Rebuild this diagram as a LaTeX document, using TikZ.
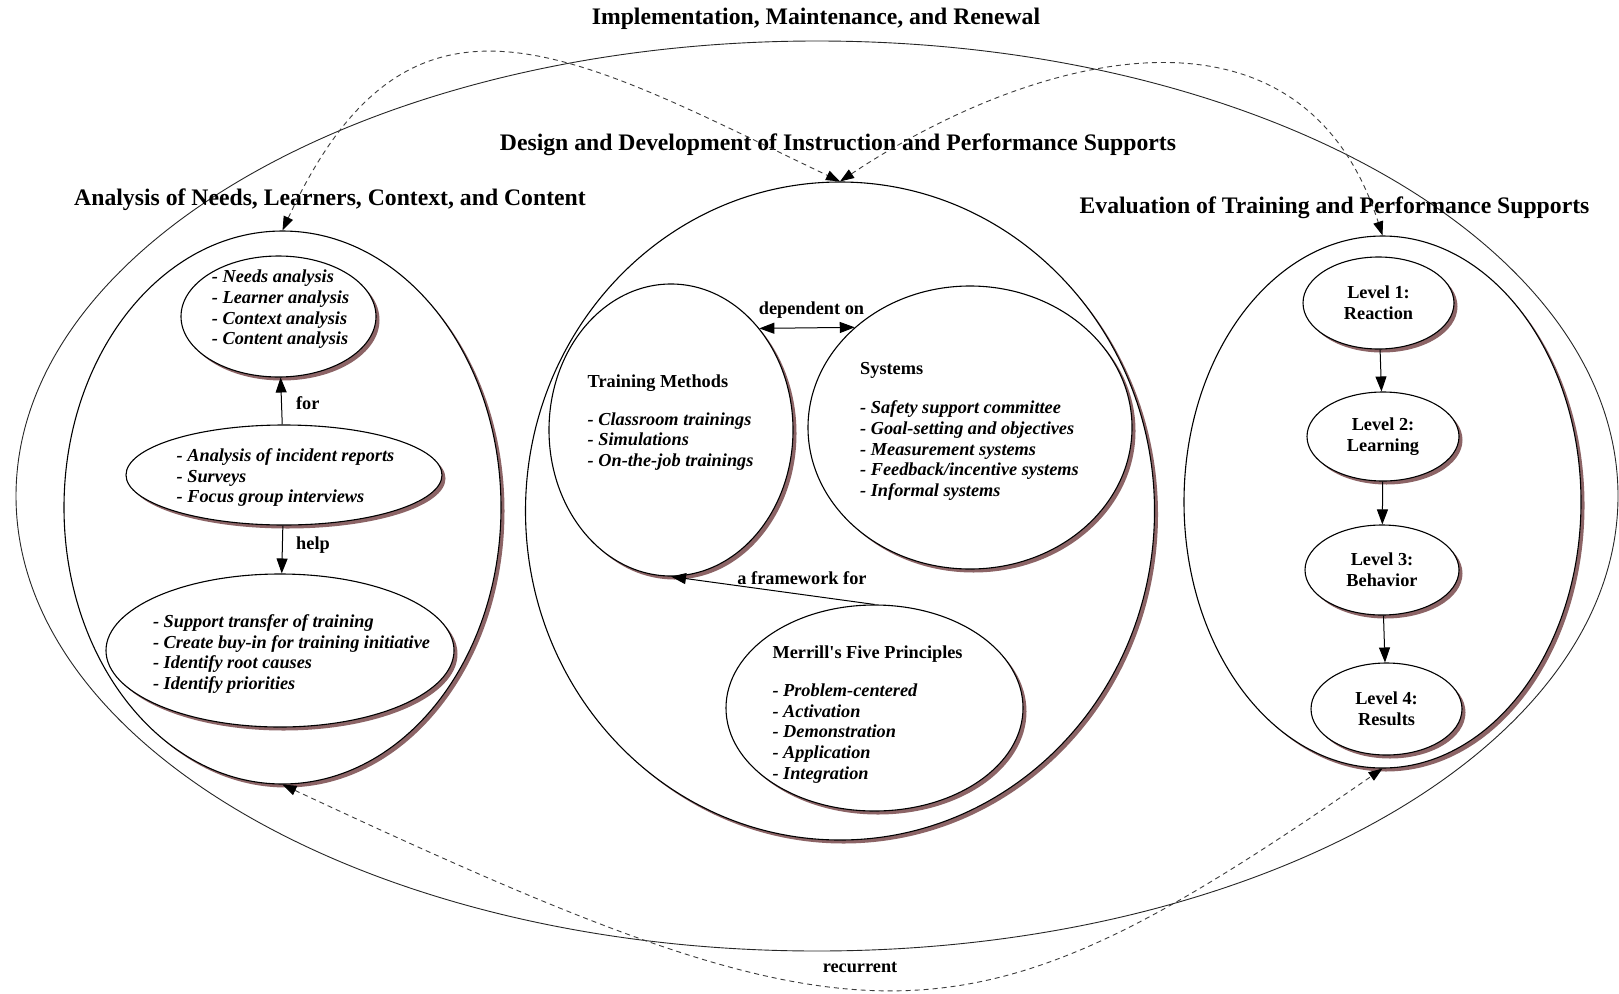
\documentclass[tikz,border=0pt]{standalone}
\usepackage{fontspec}
\setmainfont{Liberation Serif}
\usetikzlibrary{shapes.geometric,shadows,arrows.meta}
\definecolor{shadowc}{RGB}{140,100,102}
\definecolor{dashc}{RGB}{60,60,60}
\begin{document}
\begin{tikzpicture}[x=1pt,y=-1pt,
  ell/.style={ellipse, draw=black, line width=1.1pt, fill=white, inner sep=0pt,
     drop shadow={shadow xshift=3.5pt, shadow yshift=-3.5pt, fill=shadowc, opacity=1}},
  bigell/.style={ellipse, draw=black!85, line width=0.9pt, fill=white, inner sep=0pt},
  items/.style={font=\fontsize{18.3}{20.65}\selectfont\bfseries\itshape, align=left, inner sep=0pt, anchor=west},
  lvl/.style={ell, font=\fontsize{18.3}{20.65}\selectfont\bfseries, align=center},
  lbl/.style={font=\fontsize{18.3}{20.65}\selectfont\bfseries, inner sep=0pt},
  ttl/.style={font=\fontsize{23.7}{28}\selectfont\bfseries, inner sep=0pt},
  arr/.style={-{Triangle[length=15pt,width=11pt]}, line width=1pt},
  darr/.style={{Triangle[length=15pt,width=11pt]}-{Triangle[length=15pt,width=11pt]}, line width=1pt},
  dsh/.style={dash pattern=on 5pt off 4pt, line width=0.9pt, draw=dashc,
     {Triangle[length=14pt,width=10pt,color=black]}-{Triangle[length=14pt,width=10pt,color=black]}}
]
\useasboundingbox (0,0) rectangle (1619,993);
\fill[white] (0,0) rectangle (1619,993);

% outer ellipse
\node[bigell, minimum width=1602pt, minimum height=910pt] (impl) at (817,496) {};

% titles
\node[ttl] (timpl) at (816,18.6) {Implementation, Maintenance, and Renewal};
\node[ttl] (tdesign) at (838,144.5) {Design and Development of Instruction and Performance Supports};
\node[ttl] (tanalysis) at (330,200) {Analysis of Needs, Learners, Context, and Content};
\node[ttl] (teval) at (1334.5,207.5) {Evaluation of Training and Performance Supports};

% containers
\node[ell, minimum width=437pt, minimum height=553pt] (analysis) at (282.5,507.5) {};
\node[ell, minimum width=629pt, minimum height=658pt] (design) at (840,511) {};
\node[ell, minimum width=397pt, minimum height=532pt] (evaluation) at (1382.5,502) {};

% analysis column
\node[ell, minimum width=195pt, minimum height=121pt] (needs) at (278.5,316.5) {};
\node[items] (needst) at (211.7,309.5) {- Needs analysis\\- Learner analysis\\- Context analysis\\- Content analysis};
\node[ell, minimum width=316pt, minimum height=100pt] (incident) at (284,475) {};
\node[items] (incidentt) at (176.5,477.5) {- Analysis of incident reports\\- Surveys\\- Focus group interviews};
\node[ell, minimum width=348pt, minimum height=153pt] (support) at (280,650.5) {};
\node[items] (supportt) at (152.8,654) {- Support transfer of training\\- Create buy-in for training initiative\\- Identify root causes\\- Identify priorities};

\draw[arr] (incident) -- (needs);
\node[lbl] (lfor) at (307.7,402.7) {for};
\draw[arr] (incident) -- (support);
\node[lbl] (lhelp) at (313,545) {help};

% design column
\node[ell, minimum width=244pt, minimum height=292pt] (tm) at (671,430) {};
\node[items] (tmt) at (587.5,422.5) {{\upshape Training Methods}\\[17.4pt]- Classroom trainings\\- Simulations\\- On-the-job trainings};
\node[ell, minimum width=324pt, minimum height=283pt] (sys) at (970,427.5) {};
\node[items] (syst) at (860,431.5) {{\upshape Systems}\\[18.5pt]- Safety support committee\\- Goal-setting and objectives\\- Measurement systems\\- Feedback/incentive systems\\- Informal systems};
\node[ell, minimum width=297pt, minimum height=206pt] (merrill) at (874.5,708) {};
\node[items] (merrillt) at (772.3,714.5) {{\upshape Merrill\textquotesingle s Five Principles}\\[17.5pt]- Problem-centered\\- Activation\\- Demonstration\\- Application\\- Integration};

\draw[darr] (tm.49.5) -- (sys.139);
\node[lbl] (ldep) at (811.5,310) {dependent on};
\draw[arr] (merrill.north) -- (tm.south);
\node[lbl] (lframe) at (802,578) {a framework for};

% evaluation column
\node[lvl, minimum width=151pt, minimum height=92pt] (l1) at (1378.5,303) {Level 1:\\Reaction};
\node[lvl, minimum width=152pt, minimum height=89pt] (l2) at (1383,436.5) {Level 2:\\Learning};
\node[lvl, minimum width=154pt, minimum height=90pt] (l3) at (1382,570) {Level 3:\\Behavior};
\node[lvl, minimum width=151pt, minimum height=92pt] (l4) at (1386.5,709) {Level 4:\\Results};
\draw[arr] (l1) -- (l2);
\draw[arr] (l2) -- (l3);
\draw[arr] (l3) -- (l4);

% dashed cycle
\draw[dsh] (analysis.north) .. controls (410,-45) and (570,52) .. (design.north);
\draw[dsh] (design.north) .. controls (1030,55) and (1300,-20) .. (evaluation.north);
\draw[dsh] (analysis.south) .. controls (872,1060) and (961,1060) .. (evaluation.south);
\node[lbl] (lrec) at (860,967.5) {recurrent};
\end{tikzpicture}
\end{document}
